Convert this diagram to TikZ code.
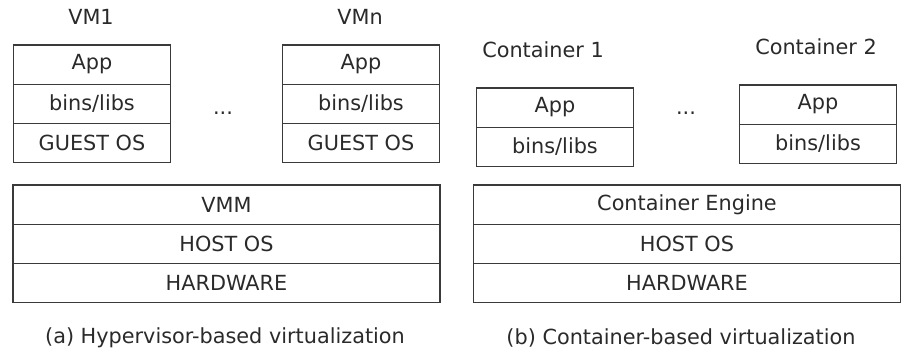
\documentclass[tikz,border=0pt]{standalone}
\usepackage{fontspec}
\setmainfont{DejaVu Sans}
\begin{document}
\begin{tikzpicture}[x=1pt,y=-1pt,
  every node/.style={font=\fontsize{20.8}{23}\selectfont, text=txt},
  layer/.style={draw=edge, line width=1.3pt, minimum height=39.3pt, inner sep=0pt},
  vmbox/.style={layer, minimum width=157pt},
  basebox/.style={layer, minimum width=427pt},
  lbl/.style={inner sep=0pt}
]
\definecolor{edge}{HTML}{3A3A3A}
\definecolor{txt}{HTML}{2A2A2A}
\useasboundingbox (0,0) rectangle (902,351);
% VM1
\node[vmbox] (v1a) at (92,64.5) {App};
\node[vmbox] (v1b) at (92,103.8) {bins/libs};
\node[vmbox] (v1c) at (92,143.1) {GUEST OS};
\node[lbl] (v1l) at (91,17) {VM1};
% VMn
\node[vmbox] (vna) at (361,64.5) {App};
\node[vmbox] (vnb) at (361,103.8) {bins/libs};
\node[vmbox] (vnc) at (361,143.1) {GUEST OS};
\node[lbl] (vnl) at (360,17) {VMn};
\node[lbl] (d1) at (223,113) {...};
% host stack left
\node[basebox] (la) at (226.5,204.5) {VMM};
\node[basebox] (lb) at (226.5,243.8) {HOST OS};
\node[basebox] (lc) at (226.5,283.1) {HARDWARE};
\node[lbl] (lcap) at (225,338) {(a) Hypervisor-based virtualization};
% containers
\node[vmbox] (c1a) at (555,107.5) {App};
\node[vmbox] (c1b) at (555,146.8) {bins/libs};
\node[lbl] (c1l) at (543,50) {Container 1};
\node[vmbox] (c2a) at (818,104.5) {App};
\node[vmbox] (c2b) at (818,143.8) {bins/libs};
\node[lbl] (c2l) at (816,47) {Container 2};
\node[lbl] (d2) at (686,113) {...};
% host stack right
\node[basebox] (ra) at (687,204.5) {Container Engine};
\node[basebox] (rb) at (687,243.8) {HOST OS};
\node[basebox] (rc) at (687,283.1) {HARDWARE};
\node[lbl] (rcap) at (681,338) {(b) Container-based virtualization};
\end{tikzpicture}
\end{document}
